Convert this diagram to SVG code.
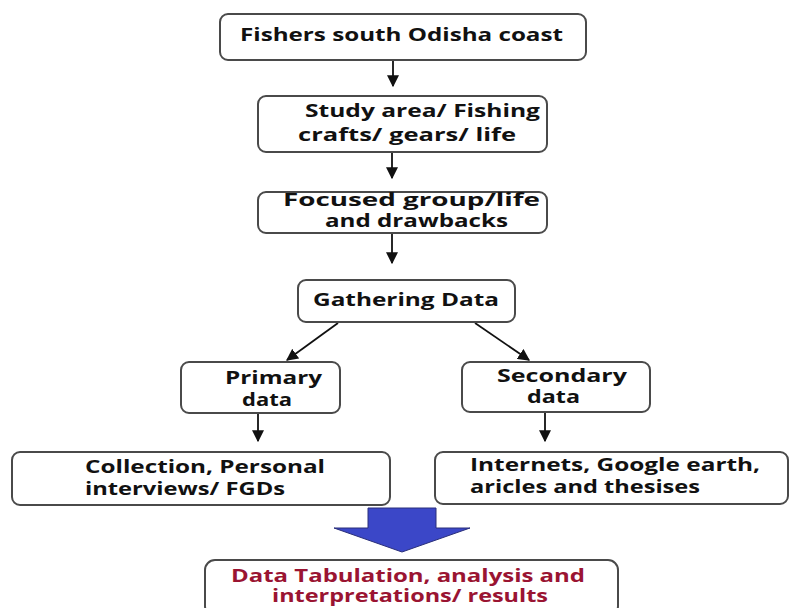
<svg xmlns="http://www.w3.org/2000/svg" width="790" height="608" viewBox="0 0 790 608">
<defs>
<marker id="ah2" viewBox="0 0 10 10" refX="9" refY="5" markerWidth="12" markerHeight="12" markerUnits="userSpaceOnUse" orient="auto">
<path d="M0,0 L10,5 L0,10 z" fill="#111"/>
</marker>
<style>
.box{fill:#fff;stroke:#4a4a4a;stroke-width:2}
.t{font-family:"Open Sans","DejaVu Sans",sans-serif;font-weight:bold;font-size:18px;fill:#111}
.r{fill:#9a1432}
.c{stroke:#111;stroke-width:1.8;fill:none;marker-end:url(#ah2)}
</style>
</defs>
<rect width="790" height="608" fill="#fff"/>
<g id="connectors">
<line class="c" x1="393" y1="60" x2="393" y2="86"/>
<line class="c" x1="392" y1="152" x2="392" y2="178"/>
<line class="c" x1="392" y1="233" x2="392" y2="263"/>
<line class="c" x1="338" y1="323" x2="287" y2="360"/>
<line class="c" x1="475" y1="323" x2="529" y2="360"/>
<line class="c" x1="258" y1="413" x2="258" y2="441"/>
<line class="c" x1="545" y1="412" x2="545" y2="441"/>
<path d="M368,508 L436,508 L436,528 L470,528 L402,552 L334,528 L368,528 Z" fill="#3b47c8" stroke="#2a2f7a" stroke-width="1"/>
</g>
<g id="n1">
<rect class="box" x="220" y="14" width="366" height="46" rx="8"/>
<text class="t" x="240" y="41" textLength="323" lengthAdjust="spacingAndGlyphs">Fishers south Odisha coast</text>
</g>
<g id="n2">
<rect class="box" x="258" y="96" width="289" height="56" rx="8"/>
<text class="t" x="305" y="117" textLength="235" lengthAdjust="spacingAndGlyphs">Study area/ Fishing</text>
<text class="t" x="298" y="141" textLength="218" lengthAdjust="spacingAndGlyphs">crafts/ gears/ life</text>
</g>
<g id="n3">
<rect class="box" x="258" y="192" width="289" height="41" rx="8"/>
<text class="t" x="283" y="206" textLength="257" lengthAdjust="spacingAndGlyphs">Focused group/life</text>
<text class="t" x="325" y="227" textLength="183" lengthAdjust="spacingAndGlyphs">and drawbacks</text>
</g>
<g id="n4">
<rect class="box" x="298" y="280" width="217" height="42" rx="8"/>
<text class="t" x="313" y="306" textLength="186" lengthAdjust="spacingAndGlyphs">Gathering Data</text>
</g>
<g id="n5">
<rect class="box" x="181" y="362" width="159" height="51" rx="8"/>
<text class="t" x="225" y="384" textLength="97" lengthAdjust="spacingAndGlyphs">Primary</text>
<text class="t" x="242" y="406" textLength="50" lengthAdjust="spacingAndGlyphs">data</text>
</g>
<g id="n6">
<rect class="box" x="462" y="362" width="188" height="50" rx="8"/>
<text class="t" x="497" y="382" textLength="130" lengthAdjust="spacingAndGlyphs">Secondary</text>
<text class="t" x="527" y="403" textLength="53" lengthAdjust="spacingAndGlyphs">data</text>
</g>
<g id="n7">
<rect class="box" x="12" y="452" width="378" height="53" rx="8"/>
<text class="t" x="85" y="473" textLength="240" lengthAdjust="spacingAndGlyphs">Collection, Personal</text>
<text class="t" x="85" y="495" textLength="200" lengthAdjust="spacingAndGlyphs">interviews/ FGDs</text>
</g>
<g id="n8">
<rect class="box" x="435" y="452" width="353" height="52" rx="8"/>
<text class="t" x="470" y="471" textLength="290" lengthAdjust="spacingAndGlyphs">Internets, Google earth,</text>
<text class="t" x="470" y="493" textLength="230" lengthAdjust="spacingAndGlyphs">aricles and thesises</text>
</g>
<g id="n9">
<rect class="box" x="205" y="560" width="413" height="56" rx="10"/>
<text class="t r" x="231" y="582" textLength="354" lengthAdjust="spacingAndGlyphs">Data Tabulation, analysis and</text>
<text class="t r" x="272" y="602" textLength="276" lengthAdjust="spacingAndGlyphs">interpretations/ results</text>
</g>
</svg>
